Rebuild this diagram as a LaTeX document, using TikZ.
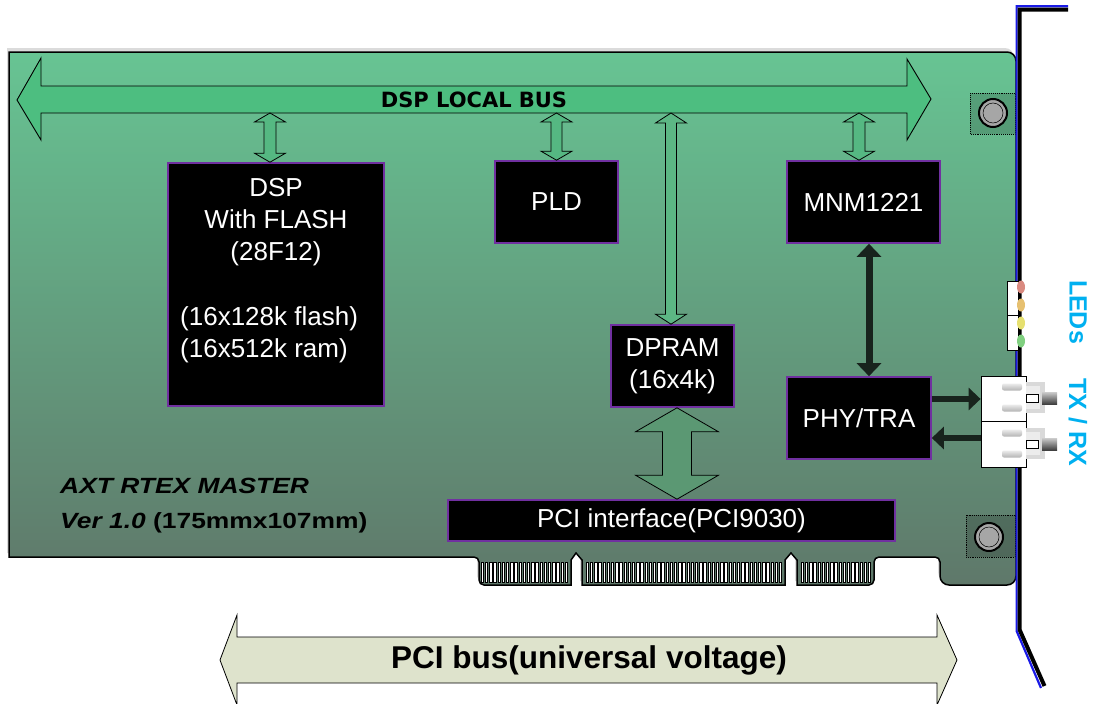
\documentclass[tikz,border=0pt]{standalone}
\usepackage{fontspec}
\setmainfont{Liberation Sans}
\newfontfamily\djv{DejaVu Sans}
\usepackage{graphicx}
\usetikzlibrary{arrows.meta,calc}
\definecolor{boxpurple}{HTML}{7030A0}
\definecolor{bdtop}{HTML}{67C493}
\definecolor{bdmid}{HTML}{62A985}
\definecolor{bdbot}{HTML}{5F786A}
\definecolor{busgreen}{HTML}{4DBE80}
\definecolor{smallgreen}{HTML}{55B882}
\definecolor{longgreen}{HTML}{5CB784}
\definecolor{biggreen}{HTML}{5B9873}
\definecolor{pcibusfill}{HTML}{DEE3CC}
\definecolor{darkarrow}{HTML}{18231D}
\definecolor{ledblue}{HTML}{00B0F0}
\definecolor{brblue}{HTML}{1A1AE6}
\newcommand\bxfont{\fontsize{26}{32}\selectfont}
% vertical fat double arrow: #1 top, #2 bottom, #3 half head, #4 half shaft, #5 head length, #6 style
\newcommand\vdbl[6]{%
  \draw[#6] let \p1=(#1), \p2=(#2) in
  (\x1,\y1) -- (\x1+#3pt,\y1-#5pt) -- (\x1+#4pt,\y1-#5pt) -- (\x1+#4pt,\y2+#5pt)
  -- (\x1+#3pt,\y2+#5pt) -- (\x1,\y2) -- (\x1-#3pt,\y2+#5pt) -- (\x1-#4pt,\y2+#5pt)
  -- (\x1-#4pt,\y1-#5pt) -- (\x1-#3pt,\y1-#5pt) -- cycle;}
\newcommand\brdpath{(9,52) [rounded corners=9pt] -- (1016,52) -- (1016,585) -- (940,585) [rounded corners=5pt] -- (940,557) -- (874,557) -- (874,585) [sharp corners] -- (797,585) -- (797,560) -- (791,553) -- (785,560) -- (785,585) -- (582,585) -- (582,560) -- (576,553) -- (571,560) -- (571,585) [rounded corners=5pt] -- (479,585) -- (479,557) [sharp corners] -- (9,557) -- cycle}
\begin{document}
\begin{tikzpicture}[x=1pt,y=-1pt,
  blk/.style={draw=boxpurple, line width=1.6pt, fill=black, text=white, font=\bxfont, inner sep=0pt, align=center},
  wtext/.style={text=white, font=\bxfont, inner sep=0pt},
  arrshape/.style={draw=black, line width=0.9pt, fill=#1},
  fingerst/.style={fill=white, draw=black, line width=0.4pt},
  darkline/.style={draw=darkarrow, line width=#1},
  conbox/.style={draw=black, line width=0.8pt, fill=white, inner sep=0pt}]
\useasboundingbox (0,0) rectangle (1096,704);

% board
\fill[gray!28, shift={(-2,-4)}] \brdpath;
\path[draw=black, line width=1.5pt, top color=bdtop, middle color=bdmid, bottom color=bdbot] \brdpath;
% gold fingers
\foreach \a/\n in {481/20, 586/46, 801/16}
  \foreach \i in {0,...,\n}
    \draw[fingerst] ({\a+4.2*\i},562) rectangle ++(2.4,20);

% screws
\foreach \cx/\cy/\sx/\sy/\ex/\ey in {993/113/970/93/1015/134, 989/537/966/515/1015/557}{
  \fill[black, opacity=0.16] (\sx,\sy) rectangle (\ex,\ey);
  \draw[densely dotted, line width=0.9pt] (\sx,\sy) rectangle (\ex,\ey);
  \path[draw=black, line width=2pt, top color=gray!70, middle color=white, bottom color=gray!70, shading angle=45] (\cx,\cy) circle (14);
  \draw[line width=0.5pt] (\cx,\cy) circle (10);
}

% bracket
\draw[brblue, line width=2.2pt, line join=miter] (1068,6.3) -- (1016.6,6.3) -- (1016.6,631) -- (1041,688);
\draw[black, line width=4pt, line join=miter] (1068,9.5) -- (1019.7,9.5) -- (1019.7,630) -- (1044.5,686);

% DSP local bus
\draw[arrshape=busgreen] (17,100) -- (41,58) -- (41,86) -- (907,86) -- (907,59) -- (931,99) -- (907,140) -- (907,113) -- (41,113) -- (41,140) -- cycle;
\node[font=\djv\bfseries\fontsize{21}{22}\selectfont, inner sep=0pt] (buslbl) at (474,99.5) {DSP LOCAL BUS};
\coordinate (bb) at (0,113);

% blocks
\node[blk, minimum width=216pt, minimum height=243pt] (dsp) at (276,284.5) {};
\node[wtext, align=center] (dsptxt) at (276,222.5) {DSP\\With FLASH\\(28F12)};
\node[wtext, align=left, anchor=west] (dspmem) at (180,334.4) {(16x128k flash)\\(16x512k ram)};
\node[blk, minimum width=123pt, minimum height=82pt] (pld) at (556.5,202) {PLD};
\node[blk, minimum width=153pt, minimum height=82pt] (mnm) at (863.5,202) {MNM1221};
\node[blk, minimum width=123pt, minimum height=82pt] (dpram) at (672.5,366) {DPRAM\\(16x4k)};
\node[blk, minimum width=144pt, minimum height=82pt] (phy) at (859,418) {PHY/TRA};
\node[blk, minimum width=447pt, minimum height=41pt] (pci) at (671.5,520.5) {PCI interface(PCI9030)};

% bus arrows
\coordinate (a1t) at ([xshift=-6pt]dsp.north |- bb);
\coordinate (a1b) at ([xshift=-6pt]dsp.north);
\vdbl{a1t}{a1b}{15.5}{6}{9}{arrshape=smallgreen, line width=0.8pt}
\vdbl{pld.north |- bb}{pld.north}{15.5}{5.5}{9}{arrshape=smallgreen, line width=0.8pt}
\coordinate (a3t) at ([xshift=-4.5pt]mnm.north |- bb);
\coordinate (a3b) at ([xshift=-4.5pt]mnm.north);
\vdbl{a3t}{a3b}{15.5}{6}{9}{arrshape=smallgreen, line width=0.8pt}
\coordinate (a4t) at ([xshift=-1.5pt]dpram.north |- bb);
\coordinate (a4b) at ([xshift=-1.5pt]dpram.north);
\vdbl{a4t}{a4b}{15.5}{5.5}{10}{arrshape=longgreen, line width=0.8pt}
\coordinate (bx) at (677,0);
\vdbl{dpram.south -| bx}{pci.north -| bx}{41.5}{14.5}{24}{arrshape=biggreen, line width=0.8pt}

% LED block
\draw[fill=white, line width=0.8pt] (1007,281) rectangle (1018,350);
\draw[line width=0.6pt] (1007,315) -- (1018,315);
\foreach \ly/\lc in {287/D98A80, 305/E6C070, 323/E6E070, 341/80D080}{
  \definecolor{ledc}{HTML}{\lc}
  \fill[ledc] (1021,\ly) ellipse (4 and 6.5);
}

% TX/RX connectors
\node[conbox, minimum width=45pt, minimum height=45pt] (tx) at (1003.5,398.5) {};
\node[conbox, minimum width=45pt, minimum height=46pt] (rx) at (1003.5,444) {};
\foreach \oy in {0,46}{
  \foreach \ty in {387,408}
    \path[top color=gray!15, bottom color=gray!60, rounded corners=2pt] (1002,\ty+\oy-3.5) rectangle (1022,\ty+\oy+3.5);
  \fill[gray!30] (1026,382+\oy) rectangle (1045,413+\oy);
  \fill[gray!15] (1026,386+\oy) rectangle (1040,409+\oy);
  \draw[fill=white, line width=0.6pt] (1026,394+\oy) rectangle (1038,402+\oy);
  \path[top color=gray!40, bottom color=black!75] (1042,392+\oy) rectangle (1057,404+\oy);
}

% MNM - PHY and PHY - TX/RX arrows
\coordinate (mp) at (869,0);
\draw[darkline=7pt, {Triangle[width=24pt,length=13pt]}-{Triangle[width=24pt,length=13pt]}] (mnm.south -| mp) -- (phy.north -| mp);
\coordinate (txy) at (0,399);
\coordinate (rxy) at (0,438);
\draw[darkline=6pt, -{Triangle[width=22pt,length=12pt]}] (phy.east |- txy) -- (tx.west |- txy);
\draw[darkline=6pt, -{Triangle[width=22pt,length=12pt]}] (rx.west |- rxy) -- (phy.east |- rxy);

% side labels
\node[rotate=-90, text=ledblue, font=\bfseries\fontsize{25}{25}\selectfont, inner sep=0pt] (ledlbl) at (1078,312) {LEDs};
\node[rotate=-90, text=ledblue, font=\bfseries\fontsize{25}{25}\selectfont, inner sep=0pt] (txrxlbl) at (1078,422) {TX / RX};

% board name
\node[anchor=base west, inner sep=0pt, font=\fontsize{22}{26}\selectfont] (brdname) at (60,493) {\scalebox{1.2}[1]{\bfseries\itshape AXT RTEX MASTER}};
\node[anchor=base west, inner sep=0pt, font=\fontsize{22}{26}\selectfont] (brdver) at (60,528) {\scalebox{1.2}[1]{\bfseries\itshape Ver 1.0 \upshape(175mmx107mm)}};

% PCI bus
\draw[arrshape=pcibusfill, line width=0.8pt] (220,660) -- (237,615) -- (237,637) -- (937,637) -- (937,615) -- (957,660) -- (937,705) -- (937,683) -- (237,683) -- (237,705) -- cycle;
\node[font=\bfseries\fontsize{31.5}{34}\selectfont, inner sep=0pt] (pcibus) at (589,660) {PCI bus(universal voltage)};
\end{tikzpicture}
\end{document}
